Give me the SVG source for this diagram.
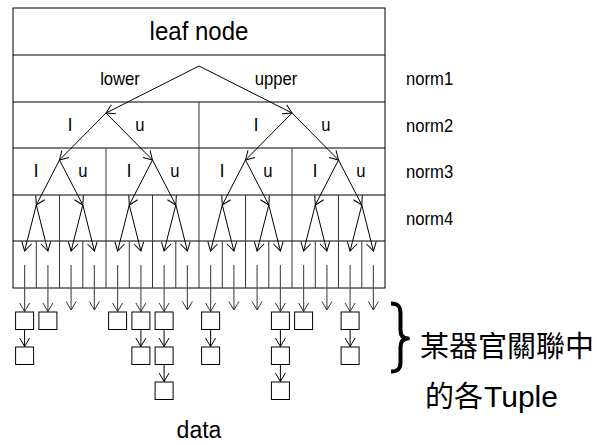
<svg xmlns="http://www.w3.org/2000/svg" width="597" height="445" viewBox="0 0 597 445">
<style>
.t{font-family:"Liberation Sans",Arial,sans-serif;fill:#000}
.s{font-size:18.5px}
.ln{stroke:#000;stroke-width:1;fill:none}
.dv{stroke:#333;stroke-width:1;fill:none}
.ar{stroke:#000;stroke-width:1;fill:none;marker-end:url(#ah)}
.st{stroke:#555;stroke-width:1.2;fill:none;marker-end:url(#ahg)}
.bx{fill:#fff;stroke:#000;stroke-width:1}
.cjk{font-family:"Liberation Sans","Noto Sans CJK TC",sans-serif;font-size:29px}
</style>
<defs>
<marker id="ah" markerUnits="userSpaceOnUse" markerWidth="12" markerHeight="12" refX="8.5" refY="5" orient="auto" overflow="visible">
<path d="M0,0 L8.5,5 L0,10" fill="none" stroke="#000" stroke-width="1"/>
</marker>
<marker id="ahg" markerUnits="userSpaceOnUse" markerWidth="12" markerHeight="12" refX="8.5" refY="5" orient="auto" overflow="visible">
<path d="M0,0 L8.5,5 L0,10" fill="none" stroke="#333" stroke-width="1"/>
</marker>
</defs>
<rect width="597" height="445" fill="#fff"/>

<g id="leaf-node-table">
<rect class="ln" x="13" y="8" width="372" height="280"/>
<path class="ln" d="M13 55H385M13 102H385M13 148H385M13 195H385M13 241H385"/>
<path class="dv" d="M199 102V288M106 148V288M292 148V288"/>
<path class="dv" d="M59.5 195V288M152.5 195V288M245.5 195V288M338.5 195V288"/>
<path class="dv" d="M36.3 241V288M82.8 241V288M129.3 241V288M175.8 241V288M222.3 241V288M268.8 241V288M315.3 241V288M361.8 241V288"/>
<text class="t" x="199" y="40" font-size="25" text-anchor="middle" transform="translate(199,0) scale(0.96,1) translate(-199,0)">leaf node</text>
</g>

<g id="norm1-labels">
<text class="t s" text-anchor="middle" transform="translate(120,85) scale(0.9,1)">lower</text>
<text class="t s" text-anchor="middle" transform="translate(276,85) scale(0.9,1)">upper</text>
</g>
<g id="norm2-labels" text-anchor="middle">
<text class="t s" x="70" y="131">l</text>
<text class="t s" transform="translate(140,131) scale(0.9,1)">u</text>
<text class="t s" x="256" y="131">l</text>
<text class="t s" transform="translate(326,131) scale(0.9,1)">u</text>
</g>
<g id="norm3-labels" text-anchor="middle">
<text class="t s" x="36" y="177">l</text>
<text class="t s" transform="translate(83,177) scale(0.9,1)">u</text>
<text class="t s" x="129" y="177">l</text>
<text class="t s" transform="translate(175,177) scale(0.9,1)">u</text>
<text class="t s" x="222" y="177">l</text>
<text class="t s" transform="translate(268,177) scale(0.9,1)">u</text>
<text class="t s" x="315" y="177">l</text>
<text class="t s" transform="translate(361,177) scale(0.9,1)">u</text>
</g>
<g id="norm-names">
<text class="t s" transform="translate(406,85) scale(0.9,1)">norm1</text>
<text class="t s" transform="translate(406,131.5) scale(0.9,1)">norm2</text>
<text class="t s" transform="translate(406,178) scale(0.9,1)">norm3</text>
<text class="t s" transform="translate(406,225) scale(0.9,1)">norm4</text>
</g>

<g id="connectors">
<path class="ar" d="M199 66L106 113"/>
<path class="ar" d="M199 66L292 113"/>
<path class="ar" d="M106 113L59.5 160"/>
<path class="ar" d="M106 113L152.5 160"/>
<path class="ar" d="M292 113L245.5 160"/>
<path class="ar" d="M292 113L338.5 160"/>
<path class="ar" d="M59.5 160L36.3 205"/>
<path class="ar" d="M59.5 160L82.8 205"/>
<path class="ar" d="M152.5 160L129.3 205"/>
<path class="ar" d="M152.5 160L175.8 205"/>
<path class="ar" d="M245.5 160L222.3 205"/>
<path class="ar" d="M245.5 160L268.8 205"/>
<path class="ar" d="M338.5 160L315.3 205"/>
<path class="ar" d="M338.5 160L361.8 205"/>
<path class="ar" d="M36.3 205L24.6 251"/>
<path class="ar" d="M36.3 205L47.9 251"/>
<path class="ar" d="M82.8 205L71.1 251"/>
<path class="ar" d="M82.8 205L94.4 251"/>
<path class="ar" d="M129.3 205L117.6 251"/>
<path class="ar" d="M129.3 205L140.9 251"/>
<path class="ar" d="M175.8 205L164.1 251"/>
<path class="ar" d="M175.8 205L187.4 251"/>
<path class="ar" d="M222.3 205L210.6 251"/>
<path class="ar" d="M222.3 205L233.9 251"/>
<path class="ar" d="M268.8 205L257.1 251"/>
<path class="ar" d="M268.8 205L280.4 251"/>
<path class="ar" d="M315.3 205L303.6 251"/>
<path class="ar" d="M315.3 205L326.9 251"/>
<path class="ar" d="M361.8 205L350.1 251"/>
<path class="ar" d="M361.8 205L373.4 251"/>
<path class="st" d="M24.6 265V311.5"/>
<path class="st" d="M47.9 265V311.5"/>
<path class="st" d="M71.1 265V310"/>
<path class="st" d="M94.4 265V310"/>
<path class="st" d="M117.6 265V311.5"/>
<path class="st" d="M140.9 265V311.5"/>
<path class="st" d="M164.1 265V311.5"/>
<path class="st" d="M187.4 265V310"/>
<path class="st" d="M210.6 265V311.5"/>
<path class="st" d="M233.9 265V310"/>
<path class="st" d="M257.1 265V310"/>
<path class="st" d="M280.4 265V311.5"/>
<path class="st" d="M303.6 265V311.5"/>
<path class="st" d="M326.9 265V310"/>
<path class="st" d="M350.1 265V311.5"/>
<path class="st" d="M373.4 265V310"/>
<path class="ar" d="M24.6 329.5V346.5"/>
<path class="ar" d="M140.9 329.5V346.5"/>
<path class="ar" d="M164.1 329.5V346.5"/>
<path class="ar" d="M164.1 364.5V381.5"/>
<path class="ar" d="M210.6 329.5V346.5"/>
<path class="ar" d="M280.4 329.5V346.5"/>
<path class="ar" d="M280.4 364.5V381.5"/>
<path class="ar" d="M350.1 329.5V346.5"/>
</g>

<g id="tuples">
<g id="t0a"><rect class="bx" x="15.6" y="312" width="18" height="17.5"/></g>
<g id="t0b"><rect class="bx" x="15.6" y="347" width="18" height="17.5"/></g>
<g id="t1a"><rect class="bx" x="38.9" y="312" width="18" height="17.5"/></g>
<g id="t4a"><rect class="bx" x="108.6" y="312" width="18" height="17.5"/></g>
<g id="t5a"><rect class="bx" x="131.9" y="312" width="18" height="17.5"/></g>
<g id="t5b"><rect class="bx" x="131.9" y="347" width="18" height="17.5"/></g>
<g id="t6a"><rect class="bx" x="155.1" y="312" width="18" height="17.5"/></g>
<g id="t6b"><rect class="bx" x="155.1" y="347" width="18" height="17.5"/></g>
<g id="t6c"><rect class="bx" x="155.1" y="382" width="18" height="17.5"/></g>
<g id="t8a"><rect class="bx" x="201.6" y="312" width="18" height="17.5"/></g>
<g id="t8b"><rect class="bx" x="201.6" y="347" width="18" height="17.5"/></g>
<g id="t11a"><rect class="bx" x="271.4" y="312" width="18" height="17.5"/></g>
<g id="t11b"><rect class="bx" x="271.4" y="347" width="18" height="17.5"/></g>
<g id="t11c"><rect class="bx" x="271.4" y="382" width="18" height="17.5"/></g>
<g id="t12a"><rect class="bx" x="294.6" y="312" width="18" height="17.5"/></g>
<g id="t14a"><rect class="bx" x="341.1" y="312" width="18" height="17.5"/></g>
<g id="t14b"><rect class="bx" x="341.1" y="347" width="18" height="17.5"/></g>
</g>

<g id="data-label">
<text class="t" x="199" y="438" font-size="23" text-anchor="middle">data</text>
</g>

<g id="brace-note">
<path d="M391 303.5C398 303.5 400.5 306 400.5 313L400.5 330C400.5 336 403 338.5 408 338.5C403 338.5 400.5 341 400.5 347L400.5 362C400.5 369 398 371.5 391 371.5" fill="none" stroke="#000" stroke-width="4" stroke-linejoin="round"/>
<text class="t cjk" x="420" y="357">某器官關聯中</text>
<text class="t cjk" x="425" y="407">的各<tspan font-size="30" dx="1">Tuple</tspan></text>
</g>
</svg>
